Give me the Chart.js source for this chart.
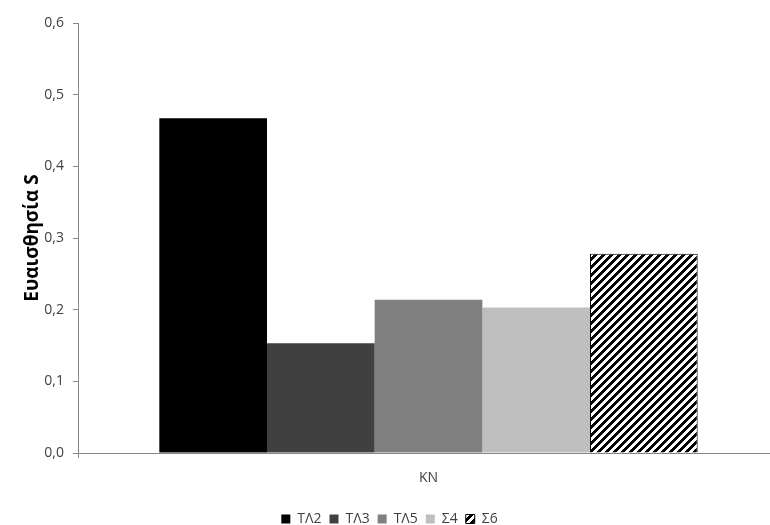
<!DOCTYPE html>
<html>
<head>
<meta charset="utf-8">
<script src="https://cdn.jsdelivr.net/npm/chart.js@4/dist/chart.umd.min.js"></script>
<style>
  html, body { margin: 0; padding: 0; background: #fff; overflow: hidden; }
  #wrap { width: 770px; height: 525px; overflow: hidden; }
</style>
</head>
<body>
<div id="wrap"><canvas id="sensChart" width="779" height="540"></canvas></div>
<script>
// categories and series
const categories = ["KN"];
const seriesNames = ["ΤΛ2", "ΤΛ3", "ΤΛ5", "Σ4", "Σ6"];
const seriesValues = [0.467, 0.153, 0.214, 0.203, 0.278];
const seriesColors = ["#000000", "#404040", "#808080", "#bfbfbf", null];
const yTicks = [0, 0.1, 0.2, 0.3, 0.4, 0.5, 0.6];

// wide upward diagonal hatch for the last series
function makeHatch() {
  var c = document.createElement("canvas");
  c.width = 8;
  c.height = 8;
  var g = c.getContext("2d");
  g.fillStyle = "#fff";
  g.fillRect(0, 0, 8, 8);
  g.fillStyle = "#000";
  for (var y = 0; y < 8; y++) {
    for (var x = 0; x < 8; x++) {
      if ((x + y) % 8 < 4) g.fillRect(x, y, 1, 1);
    }
  }
  return g.createPattern(c, "repeat");
}

var ctx = document.getElementById("sensChart").getContext("2d");
var hatch = makeHatch();

var datasets = seriesNames.map(function (name, i) {
  var isHatch = seriesColors[i] === null;
  return {
    label: name,
    data: [seriesValues[i]],
    backgroundColor: isHatch ? hatch : seriesColors[i],
    borderColor: isHatch ? "#000" : seriesColors[i],
    borderWidth: isHatch ? 1 : 0,
    barPercentage: 1.0,
    categoryPercentage: 0.768,
  };
});

var axisColor = "#868686";
var fontFamily = "'Open Sans', 'Liberation Sans', sans-serif";
var tickFont = { family: fontFamily, size: 14 };

new Chart(ctx, {
  type: "bar",
  data: { labels: categories, datasets: datasets },
  options: {
    responsive: false,
    animation: false,
    layout: { padding: { top: 23, right: 0, bottom: 4, left: 0 } },
    plugins: {
      tooltip: { enabled: false },
      legend: {
        position: "bottom",
        labels: {
          boxWidth: 9,
          boxHeight: 9,
          padding: 8,
          color: "#404040",
          font: tickFont,
        },
      },
    },
    scales: {
      x: {
        // leave room between the category label and the legend
        afterFit: function (scale) { scale.height = 51; },
        grid: {
          display: true,
          drawOnChartArea: false,
          drawTicks: true,
          tickLength: 5,
          color: axisColor,
        },
        border: { color: axisColor, width: 1 },
        ticks: { color: "#404040", font: tickFont, padding: 12 },
      },
      y: {
        min: 0,
        max: 0.6,
        afterBuildTicks: function (scale) {
          scale.ticks = yTicks.map(function (v) { return { value: v }; });
        },
        afterFit: function (scale) { scale.width = 78; },
        grid: {
          display: true,
          drawOnChartArea: false,
          drawTicks: true,
          tickLength: 5,
          color: axisColor,
        },
        border: { color: axisColor, width: 1 },
        ticks: {
          color: "#404040",
          font: tickFont,
          padding: 9,
          callback: function (v) { return v.toFixed(1).replace(".", ","); },
        },
        title: {
          display: true,
          text: "Ευαισθησία S",
          color: "#000",
          font: { family: fontFamily, size: 19, weight: "bold" },
          padding: { top: 21, bottom: 0 },
        },
      },
    },
  },
});
</script>
</body>
</html>
